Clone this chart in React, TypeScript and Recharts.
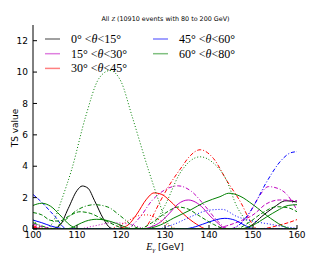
import React from 'react'
import { LineChart, Line, XAxis, YAxis } from 'recharts'

// E_gamma ticks and TS ticks
const xTicks = [100, 110, 120, 130, 140, 150, 160]
const yTicks = [0, 2, 4, 6, 8, 10, 12]

// [E_gamma, TS] pairs
// 0 < theta < 15
const k0Solid = [[100, 0.05], [102, 0.02], [104, 0], [106, 0.2], [108, 1.3], [110, 2.45], [111.2, 2.74], [112.5, 2.6], [114, 1.8], [116, 0.65], [117.5, 0.08], [118.5, 0], [147.5, 0], [150, 0.3], [152, 0.8], [154.6, 1.35], [157.5, 1.8], [160, 1.72]]
// 15 < theta < 30
const m1Solid = [[100, 0.1], [104, 0], [124.5, 0], [127, 0.15], [129, 0.45], [131, 1.0], [133, 1.6], [135.3, 1.85], [137, 1.7], [138.7, 1.32], [140, 0.9], [141.7, 0.45], [143.6, 0.05], [145, 0], [160, 0]]
const m1DashDot = [[100, 0], [121, 0], [124.3, 0.75], [127, 1.8], [130, 2.5], [133, 2.75], [136, 2.4], [139, 1.5], [142, 0.5], [144.5, 0], [147, 0.3], [149, 0.9], [151, 1.9], [153.5, 2.7], [155.5, 2.6], [157.7, 2.2], [160, 1.2]]
const m1Dashed = [[100, 0.3], [103, 0.1], [106, 0], [140, 0], [144, 0.2], [147, 0.5], [150, 0.9], [153, 1.6], [156, 1.85], [160, 1.8]]
const m1Dotted = [[100, 0], [110, 0], [114, 0.2], [118, 0.4], [122, 0.3], [126, 0], [160, 0]]
// 30 < theta < 45
const r2Solid = [[100, 0], [118.5, 0], [121.3, 0.2], [123.6, 0.95], [125.8, 1.9], [127.5, 2.3], [129.3, 2.2], [131.1, 1.8], [134.2, 0.95], [137.2, 0.3], [139.5, 0], [160, 0]]
const r2DashDot = [[100, 0.2], [102, 0.05], [104, 0], [125, 0], [126.7, 0.55], [128.6, 1.6], [131, 2.8], [133.8, 3.95], [135.5, 4.6], [138, 5.05], [141, 4.5], [144, 3.1], [147.4, 1.6], [149.3, 0.55], [151, 0], [160, 0]]
const r2Dotted = [[100, 0], [117, 0], [119, 0.15], [121.3, 0.47], [124, 0.85], [126, 0.9], [128.9, 0.55], [131, 0.2], [133, 0], [160, 0]]
const r2Dashed = [[100, 0.1], [103, 0], [150, 0], [153, 0.05], [156, 0.25], [158, 0.4], [160, 0.6]]
// 45 < theta < 60
const b3Solid = [[100, 0.57], [102, 0.4], [104, 0.2], [106.5, 0.03], [108, 0], [134, 0], [137, 0.15], [140, 0.45], [143.6, 0.68], [146, 0.55], [148, 0.25], [150, 0.03], [152, 0], [160, 0]]
const b3Dashed = [[100, 2.2], [102, 1.7], [104, 1.1], [105, 0.8], [107, 0.1], [108, 0], [160, 0]]
const b3DashDot = [[100, 0], [145, 0], [147, 0.3], [149.7, 1.26], [153.1, 3.0], [156.5, 4.4], [158.5, 4.85], [160, 4.93]]
const b3Dotted = [[100, 0], [128, 0], [132, 0.3], [136, 0.8], [140, 1.2], [143, 1.25], [146.3, 0.8], [150, 0.5], [154, 0.3], [156.9, 0.15], [160, 0.05]]
// 60 < theta < 80
const g4Solid = [[100, 1.5], [102, 1.64], [104, 1.45], [106.1, 0.9], [108.4, 0.25], [110, 0.03], [111, 0], [125, 0], [128.9, 0.25], [132, 0.7], [135.7, 1.2], [139, 1.7], [142.5, 2.06], [144.5, 2.28], [147, 2.1], [150, 1.55], [154, 0.68], [157.7, 0.08], [159, 0], [160, 0]]
const g4Solid2 = [[100, 0], [107, 0], [108.5, 0.05], [110, 0.25], [112, 0.5], [114.5, 0.62], [116.4, 0.57], [119, 0.35], [122, 0.03], [123, 0], [147, 0], [150, 0.25], [153, 0.75], [156, 1.25], [158, 1.5], [160, 1.55]]
const g4Dashed = [[100, 1.05], [102, 0.9], [104, 0.55], [106, 0.5], [108, 0.8], [110.7, 1.1], [113, 1.0], [116, 0.6], [119, 0.2], [121, 0], [124, 0], [127, 0.4], [130, 1.0], [133, 1.4], [135, 1.3], [138, 0.8], [141, 0.3], [144, 0], [146, 0], [149, 0.4], [152, 1.0], [155.4, 1.42], [158, 1.35], [160, 1.1]]
const g4DashDot = [[100, 0.4], [103, 0.1], [104, 0], [107, 0.5], [110, 1.2], [114, 1.55], [117, 1.4], [120, 0.8], [123, 0.15], [125, 0], [160, 0]]
const g4Dotted = [[100, 0.6], [101.5, 0.15], [103, 0], [105, 0.7], [106.5, 1.85], [108.8, 3.8], [112, 7.2], [115, 9.6], [117.5, 10.1], [120, 9.4], [122.5, 7.2], [126.2, 3.8], [128.5, 1.85], [130, 0.7], [131.5, 0.1], [133, 0], [160, 0]]
const g4Dotted2 = [[100, 0], [126, 0], [128, 0.5], [130, 1.5], [133.4, 3.55], [138, 4.6], [141, 4.2], [144, 3.1], [146.3, 1.45], [148.6, 0.5], [150.5, 0], [160, 0]]

const BLACK = '#000000'
const MAGENTA = '#bf00bf'
const RED = '#ff0000'
const BLUE = '#0000ff'
const GREEN = '#008000'

const SERIF = "'Liberation Serif', 'DejaVu Serif', serif"
const SANS = "'DejaVu Sans', sans-serif"

const DASH: Record<string, string | undefined> = {
  solid: undefined,
  dashed: '4 2',
  dashdot: '4 2 1 2',
  dotted: '1 2',
}

const series = [
  { id: 'k0Solid', pts: k0Solid, color: BLACK, style: 'solid' },
  { id: 'm1Solid', pts: m1Solid, color: MAGENTA, style: 'solid' },
  { id: 'm1DashDot', pts: m1DashDot, color: MAGENTA, style: 'dashdot' },
  { id: 'm1Dashed', pts: m1Dashed, color: MAGENTA, style: 'dashed' },
  { id: 'm1Dotted', pts: m1Dotted, color: MAGENTA, style: 'dotted' },
  { id: 'r2Solid', pts: r2Solid, color: RED, style: 'solid' },
  { id: 'r2DashDot', pts: r2DashDot, color: RED, style: 'dashdot' },
  { id: 'r2Dotted', pts: r2Dotted, color: RED, style: 'dotted' },
  { id: 'r2Dashed', pts: r2Dashed, color: RED, style: 'dashed' },
  { id: 'b3Solid', pts: b3Solid, color: BLUE, style: 'solid' },
  { id: 'b3Dashed', pts: b3Dashed, color: BLUE, style: 'dashed' },
  { id: 'b3DashDot', pts: b3DashDot, color: BLUE, style: 'dashdot' },
  { id: 'b3Dotted', pts: b3Dotted, color: BLUE, style: 'dotted' },
  { id: 'g4Solid', pts: g4Solid, color: GREEN, style: 'solid' },
  { id: 'g4Solid2', pts: g4Solid2, color: GREEN, style: 'solid' },
  { id: 'g4Dashed', pts: g4Dashed, color: GREEN, style: 'dashed' },
  { id: 'g4DashDot', pts: g4DashDot, color: GREEN, style: 'dashdot' },
  { id: 'g4Dotted', pts: g4Dotted, color: GREEN, style: 'dotted' },
  { id: 'g4Dotted2', pts: g4Dotted2, color: GREEN, style: 'dotted' },
]

const legendItems = [
  { lo: '0', hi: '15', color: '#808080' },
  { lo: '15', hi: '30', color: '#df80df' },
  { lo: '30', hi: '45', color: '#ff8080' },
  { lo: '45', hi: '60', color: '#8080ff' },
  { lo: '60', hi: '80', color: '#80c080' },
]

const toXY = (pts: number[][]) => pts.map(([x, y]) => ({ x, y }))

function Overlay() {
  return (
    <svg width={332} height={256} style={{ position: 'absolute', left: 0, top: 0, pointerEvents: 'none' }}>
      <text x={165.5} y={21} textAnchor="middle" style={{ fontFamily: SANS, fontSize: 6.4 }} fill="#000">
        All <tspan style={{ fontFamily: SERIF, fontStyle: 'italic' }}>Z</tspan> (10910 events with 80 to 200 GeV)
      </text>
      <text transform="translate(18,128) rotate(-90)" textAnchor="middle" style={{ fontFamily: SANS, fontSize: 9 }} fill="#000">
        TS value
      </text>
      <text x={165} y={250} textAnchor="middle" style={{ fontFamily: SANS, fontSize: 9 }} fill="#000">
        <tspan style={{ fontFamily: SERIF, fontStyle: 'italic', fontSize: 10 }}>E</tspan>
        <tspan style={{ fontFamily: SERIF, fontStyle: 'italic', fontSize: 7 }} dy={2}>γ</tspan>
        <tspan dy={-2}> [GeV]</tspan>
      </text>
      {legendItems.map((it, i) => {
        const col = i < 3 ? 0 : 1
        const row = i < 3 ? i : i - 3
        const lx = col === 0 ? 45 : 153
        const y = 39 + row * 14.7
        return (
          <g key={it.lo}>
            <line x1={lx} x2={lx + 15} y1={y} y2={y} stroke={it.color} strokeWidth={1.5} />
            <text x={lx + 26} y={y + 4} style={{ fontFamily: SERIF, fontSize: 12 }} fill="#000">
              {it.lo}° &lt;<tspan style={{ fontStyle: 'italic' }}>θ</tspan>&lt;{it.hi}°
            </text>
          </g>
        )
      })}
    </svg>
  )
}

export default function App() {
  return (
    <div style={{ position: 'absolute', left: 0, top: 0, width: 332, height: 256, background: '#fff' }}>
      <LineChart width={332} height={256} margin={{ top: 25, right: 35, bottom: 0, left: 0 }}>
        <XAxis xAxisId="b" type="number" dataKey="x" domain={[100, 160]} ticks={xTicks} allowDataOverflow
          height={27} tickSize={-4} tickMargin={7} stroke="#000" tickLine={{ stroke: '#000' }}
          tick={{ fontSize: 9, fontFamily: 'DejaVu Sans', fill: '#000' }} />
        <XAxis xAxisId="t" orientation="top" type="number" dataKey="x" domain={[100, 160]} ticks={xTicks} allowDataOverflow
          height={0} tickSize={-4} tick={false} stroke="#000" tickLine={{ stroke: '#000' }} />
        <YAxis yAxisId="l" type="number" domain={[0, 13]} ticks={yTicks} allowDataOverflow
          width={33} tickSize={-4} tickMargin={9} stroke="#000" tickLine={{ stroke: '#000' }}
          tick={{ fontSize: 9, fontFamily: 'DejaVu Sans', fill: '#000' }} />
        <YAxis yAxisId="r" orientation="right" type="number" domain={[0, 13]} ticks={yTicks} allowDataOverflow
          width={0} tickSize={-4} tick={false} stroke="#000" tickLine={{ stroke: '#000' }} />
        {series.map(s => (
          <Line key={s.id} xAxisId="b" yAxisId="l" data={toXY(s.pts)} dataKey="y" type="monotone"
            stroke={s.color} strokeWidth={1} strokeDasharray={DASH[s.style]} dot={false}
            isAnimationActive={false} />
        ))}
      </LineChart>
      <Overlay />
    </div>
  )
}
